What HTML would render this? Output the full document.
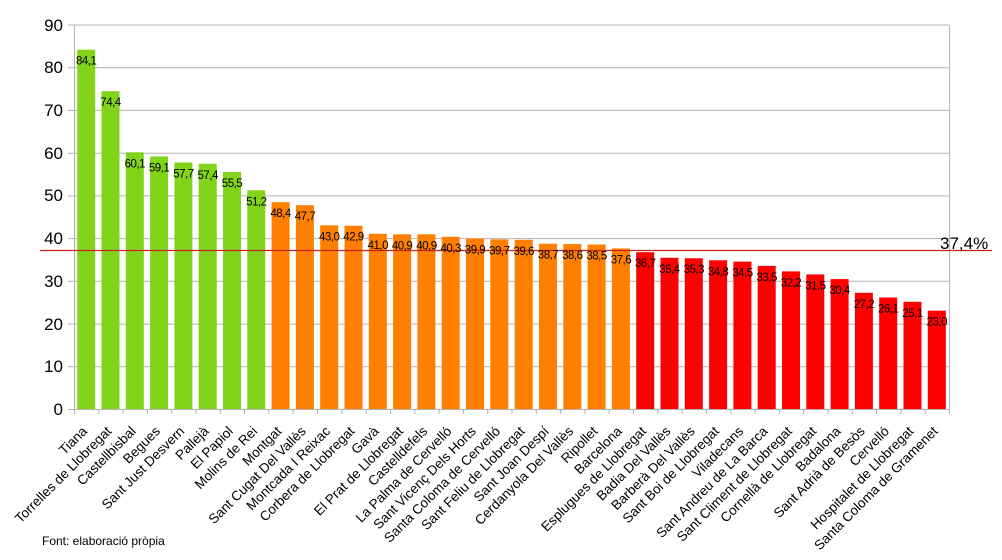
<!DOCTYPE html>
<html><head><meta charset="utf-8"><style>
html,body{margin:0;padding:0;background:#fff;}
svg{display:block;font-family:"Liberation Sans",sans-serif;}
.v{font-size:11.5px;text-anchor:middle;fill:#000;letter-spacing:-0.5px}
.c{font-size:13.5px;text-anchor:end;fill:#000}
</style></head><body>
<svg width="1002" height="560" viewBox="0 0 1002 560">
<g stroke="#b3b3b3" stroke-width="1">
<line x1="68" x2="949" y1="409.5" y2="409.5"/>
<line x1="68" x2="949" y1="366.8" y2="366.8"/>
<line x1="68" x2="949" y1="324.1" y2="324.1"/>
<line x1="68" x2="949" y1="281.3" y2="281.3"/>
<line x1="68" x2="949" y1="238.6" y2="238.6"/>
<line x1="68" x2="949" y1="195.9" y2="195.9"/>
<line x1="68" x2="949" y1="153.2" y2="153.2"/>
<line x1="68" x2="949" y1="110.4" y2="110.4"/>
<line x1="68" x2="949" y1="67.7" y2="67.7"/>
<line x1="68" x2="949" y1="25" y2="25"/>
<line x1="74.5" x2="74.5" y1="25" y2="409"/>
<line x1="949.5" x2="949.5" y1="25" y2="414"/>
</g>
<g font-size="17" fill="#000" text-anchor="end" font-family="Liberation Sans, sans-serif">
<text x="63" y="415">0</text><text x="63" y="372">10</text><text x="63" y="330">20</text><text x="63" y="287">30</text><text x="63" y="244">40</text><text x="63" y="201">50</text><text x="63" y="159">60</text><text x="63" y="116">70</text><text x="63" y="73">80</text><text x="63" y="31">90</text>
</g>
<g fill="#81d41a">
<rect x="77.2" y="49.7" width="18" height="359.3"/><rect x="101.5" y="91.2" width="18" height="317.8"/><rect x="125.8" y="152.3" width="18" height="256.7"/><rect x="150.1" y="156.5" width="18" height="252.5"/><rect x="174.4" y="162.5" width="18" height="246.5"/><rect x="198.7" y="163.8" width="18" height="245.2"/><rect x="223" y="171.9" width="18" height="237.1"/><rect x="247.3" y="190.3" width="18" height="218.7"/>
</g>
<g fill="#ff8000">
<rect x="271.6" y="202.2" width="18" height="206.8"/><rect x="295.9" y="205.2" width="18" height="203.8"/><rect x="320.2" y="225.3" width="18" height="183.7"/><rect x="344.5" y="225.7" width="18" height="183.3"/><rect x="368.8" y="233.8" width="18" height="175.2"/><rect x="393.1" y="234.3" width="18" height="174.7"/><rect x="417.4" y="234.3" width="18" height="174.7"/><rect x="441.7" y="236.8" width="18" height="172.2"/><rect x="466" y="238.5" width="18" height="170.5"/><rect x="490.3" y="239.4" width="18" height="169.6"/><rect x="514.7" y="239.8" width="18" height="169.2"/><rect x="539" y="243.7" width="18" height="165.3"/><rect x="563.3" y="244.1" width="18" height="164.9"/><rect x="587.6" y="244.5" width="18" height="164.5"/><rect x="611.9" y="248.4" width="18" height="160.6"/>
</g>
<g fill="#ff0000">
<rect x="636.2" y="252.2" width="18" height="156.8"/><rect x="660.5" y="257.8" width="18" height="151.2"/><rect x="684.8" y="258.2" width="18" height="150.8"/><rect x="709.1" y="260.3" width="18" height="148.7"/><rect x="733.4" y="261.6" width="18" height="147.4"/><rect x="757.7" y="265.9" width="18" height="143.1"/><rect x="782" y="271.4" width="18" height="137.6"/><rect x="806.3" y="274.4" width="18" height="134.6"/><rect x="830.6" y="279.1" width="18" height="129.9"/><rect x="854.9" y="292.8" width="18" height="116.2"/><rect x="879.2" y="297.5" width="18" height="111.5"/><rect x="903.5" y="301.8" width="18" height="107.2"/><rect x="927.8" y="310.7" width="18" height="98.3"/>
</g>
<g stroke="#b3b3b3">
<line x1="74.5" x2="74.5" y1="409" y2="414"/><line x1="98.8" x2="98.8" y1="409" y2="414"/><line x1="123.1" x2="123.1" y1="409" y2="414"/><line x1="147.4" x2="147.4" y1="409" y2="414"/><line x1="171.7" x2="171.7" y1="409" y2="414"/><line x1="196" x2="196" y1="409" y2="414"/><line x1="220.3" x2="220.3" y1="409" y2="414"/><line x1="244.6" x2="244.6" y1="409" y2="414"/><line x1="268.9" x2="268.9" y1="409" y2="414"/><line x1="293.2" x2="293.2" y1="409" y2="414"/><line x1="317.6" x2="317.6" y1="409" y2="414"/><line x1="341.9" x2="341.9" y1="409" y2="414"/><line x1="366.2" x2="366.2" y1="409" y2="414"/><line x1="390.5" x2="390.5" y1="409" y2="414"/><line x1="414.8" x2="414.8" y1="409" y2="414"/><line x1="439.1" x2="439.1" y1="409" y2="414"/><line x1="463.4" x2="463.4" y1="409" y2="414"/><line x1="487.7" x2="487.7" y1="409" y2="414"/><line x1="512" x2="512" y1="409" y2="414"/><line x1="536.3" x2="536.3" y1="409" y2="414"/><line x1="560.6" x2="560.6" y1="409" y2="414"/><line x1="584.9" x2="584.9" y1="409" y2="414"/><line x1="609.2" x2="609.2" y1="409" y2="414"/><line x1="633.5" x2="633.5" y1="409" y2="414"/><line x1="657.8" x2="657.8" y1="409" y2="414"/><line x1="682.1" x2="682.1" y1="409" y2="414"/><line x1="706.5" x2="706.5" y1="409" y2="414"/><line x1="730.8" x2="730.8" y1="409" y2="414"/><line x1="755.1" x2="755.1" y1="409" y2="414"/><line x1="779.4" x2="779.4" y1="409" y2="414"/><line x1="803.7" x2="803.7" y1="409" y2="414"/><line x1="828" x2="828" y1="409" y2="414"/><line x1="852.3" x2="852.3" y1="409" y2="414"/><line x1="876.6" x2="876.6" y1="409" y2="414"/><line x1="900.9" x2="900.9" y1="409" y2="414"/><line x1="925.2" x2="925.2" y1="409" y2="414"/>
</g>
<line x1="40" x2="992" y1="250.5" y2="250.5" stroke="#c9211e" stroke-width="1.2"/>
<text x="940" y="249" font-size="17" fill="#000">37,4%</text>
<g class="v">
<text x="86.2" y="64.7">84,1</text><text x="110.5" y="106.2">74,4</text><text x="134.8" y="167.3">60,1</text><text x="159.1" y="171.5">59,1</text><text x="183.4" y="177.5">57,7</text><text x="207.7" y="178.8">57,4</text><text x="232" y="186.9">55,5</text><text x="256.3" y="205.3">51,2</text><text x="280.6" y="217.2">48,4</text><text x="304.9" y="220.2">47,7</text><text x="329.2" y="240.3">43,0</text><text x="353.5" y="240.7">42,9</text><text x="377.8" y="248.8">41,0</text><text x="402.1" y="249.3">40,9</text><text x="426.4" y="249.3">40,9</text><text x="450.7" y="251.8">40,3</text><text x="475" y="253.5">39,9</text><text x="499.3" y="254.4">39,7</text><text x="523.7" y="254.8">39,6</text><text x="548" y="258.7">38,7</text><text x="572.3" y="259.1">38,6</text><text x="596.6" y="259.5">38,5</text><text x="620.9" y="263.4">37,6</text><text x="645.2" y="267.2">36,7</text><text x="669.5" y="272.8">35,4</text><text x="693.8" y="273.2">35,3</text><text x="718.1" y="275.3">34,8</text><text x="742.4" y="276.6">34,5</text><text x="766.7" y="280.9">33,5</text><text x="791" y="286.4">32,2</text><text x="815.3" y="289.4">31,5</text><text x="839.6" y="294.1">30,4</text><text x="863.9" y="307.8">27,2</text><text x="888.2" y="312.5">26,1</text><text x="912.5" y="316.8">25,1</text><text x="936.8" y="325.7">23,0</text>
</g>
<g class="c">
<text transform="translate(88,432) rotate(-45)">Tiana</text>
<text transform="translate(112.3,432) rotate(-45)">Torrelles de Llobregat</text>
<text transform="translate(136.6,432) rotate(-45)">Castellbisbal</text>
<text transform="translate(160.9,432) rotate(-45)">Begues</text>
<text transform="translate(185.2,432) rotate(-45)">Sant Just Desvern</text>
<text transform="translate(209.5,432) rotate(-45)">Pallejà</text>
<text transform="translate(233.8,432) rotate(-45)">El Papiol</text>
<text transform="translate(258.1,432) rotate(-45)">Molins de Rei</text>
<text transform="translate(282.4,432) rotate(-45)">Montgat</text>
<text transform="translate(306.7,432) rotate(-45)">Sant Cugat Del Vallès</text>
<text transform="translate(331,432) rotate(-45)">Montcada I Reixac</text>
<text transform="translate(355.3,432) rotate(-45)">Corbera de Llobregat</text>
<text transform="translate(379.6,432) rotate(-45)">Gavà</text>
<text transform="translate(403.9,432) rotate(-45)">El Prat de Llobregat</text>
<text transform="translate(428.2,432) rotate(-45)">Castelldefels</text>
<text transform="translate(452.5,432) rotate(-45)">La Palma de Cervelló</text>
<text transform="translate(476.8,432) rotate(-45)">Sant Vicenç Dels Horts</text>
<text transform="translate(501.1,432) rotate(-45)">Santa Coloma de Cervelló</text>
<text transform="translate(525.5,432) rotate(-45)">Sant Feliu de Llobregat</text>
<text transform="translate(549.8,432) rotate(-45)">Sant Joan Despí</text>
<text transform="translate(574.1,432) rotate(-45)">Cerdanyola Del Vallès</text>
<text transform="translate(598.4,432) rotate(-45)">Ripollet</text>
<text transform="translate(622.7,432) rotate(-45)">Barcelona</text>
<text transform="translate(647,432) rotate(-45)">Esplugues de Llobregat</text>
<text transform="translate(671.3,432) rotate(-45)">Badia Del Vallès</text>
<text transform="translate(695.6,432) rotate(-45)">Barberà Del Vallès</text>
<text transform="translate(719.9,432) rotate(-45)">Sant Boi de Llobregat</text>
<text transform="translate(744.2,432) rotate(-45)">Viladecans</text>
<text transform="translate(768.5,432) rotate(-45)">Sant Andreu de La Barca</text>
<text transform="translate(792.8,432) rotate(-45)">Sant Climent de Llobregat</text>
<text transform="translate(817.1,432) rotate(-45)">Cornellà de Llobregat</text>
<text transform="translate(841.4,432) rotate(-45)">Badalona</text>
<text transform="translate(865.7,432) rotate(-45)">Sant Adrià de Besòs</text>
<text transform="translate(890,432) rotate(-45)">Cervelló</text>
<text transform="translate(914.3,432) rotate(-45)">Hospitalet de Llobregat</text>
<text transform="translate(938.6,432) rotate(-45)">Santa Coloma de Gramenet</text>
</g>
<text x="42" y="545" font-size="12" fill="#000">Font: elaboració pròpia</text>
</svg>
</body></html>
